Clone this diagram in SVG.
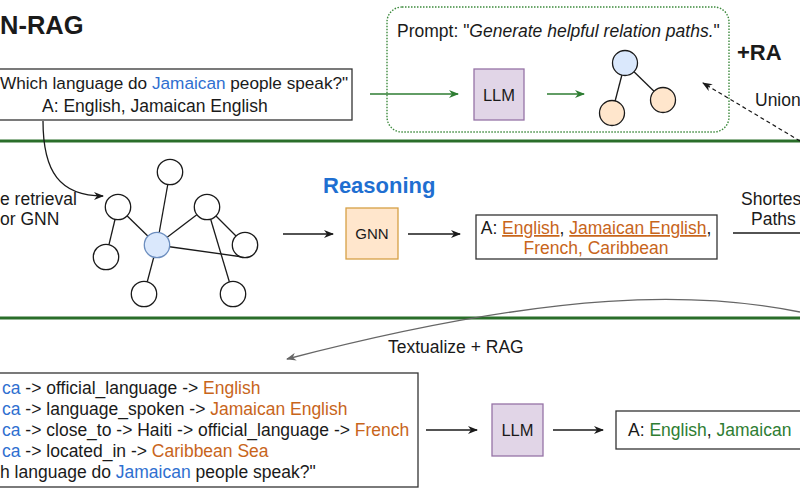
<svg xmlns="http://www.w3.org/2000/svg" width="800" height="500" viewBox="0 0 800 500">
<defs>
<style>
text{font-family:"Liberation Sans",Arial,sans-serif;font-size:17.5px;fill:#1a1a1a}
.b{fill:#2f6fd0}
.o{fill:#c8651b}
.g{fill:#2e7d32}
.box{fill:#fff;stroke:#333;stroke-width:1.3}
.llm{fill:#e1d5e7;stroke:#9673a6;stroke-width:1.3}
.gnn{fill:#ffe6cc;stroke:#d6a046;stroke-width:1.3}
.n{fill:#fff;stroke:#1a1a1a;stroke-width:1.3}
.nb{fill:#dae8fc;stroke:#6c8ebf;stroke-width:1.3}
.np{fill:#ffe6cc;stroke:#1a1a1a;stroke-width:1.3}
.e{stroke:#1a1a1a;stroke-width:1.3;fill:none}
.sep{stroke:#2a6e2a;stroke-width:3}
</style>
<marker id="ak" viewBox="0 0 10 8" refX="9" refY="4" markerWidth="10" markerHeight="8" markerUnits="userSpaceOnUse" orient="auto"><path d="M0,0 L10,4 L0,8 L3,4 z" fill="#1a1a1a"/></marker>
<marker id="ag" viewBox="0 0 10 8" refX="9" refY="4" markerWidth="10" markerHeight="8" markerUnits="userSpaceOnUse" orient="auto"><path d="M0,0 L10,4 L0,8 L3,4 z" fill="#2e7d32"/></marker>
<marker id="ay" viewBox="0 0 10 8" refX="9" refY="4" markerWidth="10" markerHeight="8" markerUnits="userSpaceOnUse" orient="auto"><path d="M0,0 L10,4 L0,8 L3,4 z" fill="#666"/></marker>
</defs>
<rect width="800" height="500" fill="#fff"/>

<!-- separators -->
<line class="sep" x1="0" y1="141" x2="800" y2="141"/>
<line class="sep" x1="0" y1="318" x2="800" y2="318"/>

<text x="0" y="34" style="font-size:25.5px;font-weight:bold">N-RAG</text>

<g id="question">
<rect class="box" x="-20" y="69" width="372" height="51"/>
<text x="0" y="89" style="font-size:17.2px">Which language do <tspan class="b">Jamaican</tspan> people speak?"</text>
<text x="42" y="112">A: English, Jamaican English</text>
</g>

<g id="ra-box">
<rect x="387" y="7" width="342" height="125" rx="15" fill="none" stroke="#3d8a3d" stroke-width="1.4" stroke-dasharray="1.5 1.5"/>
<text x="397" y="37">Prompt: "<tspan font-style="italic">Generate helpful relation paths.</tspan>"</text>
</g>
<g id="llm-top">
<rect class="llm" x="474" y="69" width="50" height="51"/>
<text x="499" y="101" text-anchor="middle" style="font-size:16.5px">LLM</text>
</g>
<g id="tree">
<line class="e" x1="625" y1="63" x2="612" y2="113"/>
<line class="e" x1="625" y1="63" x2="663" y2="100"/>
<circle class="nb" cx="625" cy="63" r="12.5" style="stroke:#1a1a1a"/>
<circle class="np" cx="612" cy="113" r="12.5"/>
<circle class="np" cx="663" cy="100" r="12.5"/>
</g>
<text x="737" y="60" style="font-size:22px;font-weight:bold">+RA</text>
<text x="755" y="106">Union</text>

<text x="0" y="205">e retrieval</text>
<text x="0" y="225">or GNN</text>

<g id="graph">
<line class="e" x1="118" y1="207" x2="106" y2="257"/>
<line class="e" x1="118" y1="207" x2="157" y2="245"/>
<line class="e" x1="170" y1="172" x2="157" y2="245"/>
<line class="e" x1="157" y1="245" x2="207" y2="207"/>
<line class="e" x1="157" y1="245" x2="144" y2="294"/>
<line class="e" x1="157" y1="245" x2="243" y2="257"/>
<line class="e" x1="207" y1="207" x2="245" y2="245"/>
<line class="e" x1="207" y1="207" x2="233" y2="294"/>
<circle class="n" cx="170" cy="172" r="12.7"/>
<circle class="n" cx="118" cy="207" r="12.7"/>
<circle class="n" cx="106" cy="257" r="12.7"/>
<circle class="nb" cx="157" cy="245" r="12.7"/>
<circle class="n" cx="144" cy="294" r="12.7"/>
<circle class="n" cx="207" cy="207" r="12.7"/>
<circle class="n" cx="245" cy="245" r="12.7"/>
<circle class="n" cx="233" cy="294" r="12.7"/>
</g>

<text x="323" y="193" style="font-size:22px;font-weight:bold;fill:#1f6fd1">Reasoning</text>

<g id="gnn">
<rect class="gnn" x="346" y="208" width="52" height="51"/>
<text x="372" y="239" text-anchor="middle" style="font-size:15px">GNN</text>
</g>

<g id="answer-mid">
<rect class="box" x="476" y="215" width="241" height="44"/>
<text x="596" y="234" text-anchor="middle">A: <tspan class="o" text-decoration="underline">English</tspan>, <tspan class="o" text-decoration="underline">Jamaican English</tspan>,</text>
<text x="596" y="254" text-anchor="middle" class="o">French, Caribbean</text>
</g>

<text x="741" y="205">Shortes</text>
<text x="751" y="225">Paths</text>
<text x="388" y="353">Textualize + RAG</text>

<g id="paths-box">
<rect class="box" x="-20" y="373" width="438" height="114"/>
<text x="2" y="394"><tspan class="b">ca</tspan> -&gt; official_language -&gt; <tspan class="o">English</tspan></text>
<text x="2" y="415"><tspan class="b">ca</tspan> -&gt; language_spoken -&gt; <tspan class="o">Jamaican English</tspan></text>
<text x="2" y="436"><tspan class="b">ca</tspan> -&gt; close_to -&gt; Haiti -&gt; official_language -&gt; <tspan class="o">French</tspan></text>
<text x="2" y="457"><tspan class="b">ca</tspan> -&gt; located_in -&gt; <tspan class="o">Caribbean Sea</tspan></text>
<text x="0" y="478">h language do <tspan class="b">Jamaican</tspan> people speak?"</text>
</g>

<g id="llm-bottom">
<rect class="llm" x="492" y="404" width="51" height="52"/>
<text x="517.5" y="436" text-anchor="middle" style="font-size:16.5px">LLM</text>
</g>

<g id="answer-bottom">
<rect class="box" x="616" y="411" width="200" height="38"/>
<text x="628" y="436">A: <tspan class="g">English</tspan>, <tspan class="g">Jamaican</tspan></text>
</g>

<g id="connectors">
<line x1="370" y1="94" x2="458" y2="94" stroke="#2e7d32" stroke-width="1.3" marker-end="url(#ag)"/>
<line x1="547" y1="94" x2="584" y2="94" stroke="#2e7d32" stroke-width="1.3" marker-end="url(#ag)"/>
<line x1="800" y1="141" x2="703" y2="83" stroke="#1a1a1a" stroke-width="1.2" stroke-dasharray="4 3" marker-end="url(#ak)"/>
<path class="e" d="M43,121 C43,172 60,196 103,196" marker-end="url(#ak)"/>
<line class="e" x1="283" y1="234" x2="333" y2="234" marker-end="url(#ak)"/>
<line class="e" x1="408" y1="234" x2="460" y2="234" marker-end="url(#ak)"/>
<line class="e" x1="733" y1="233" x2="800" y2="233"/>
<path d="M800,312 C700,292 560,288 287,359" fill="none" stroke="#666" stroke-width="1.3" marker-end="url(#ay)"/>
<line class="e" x1="426" y1="430" x2="477" y2="430" marker-end="url(#ak)"/>
<line class="e" x1="553" y1="430" x2="603" y2="430" marker-end="url(#ak)"/>
</g>
</svg>
